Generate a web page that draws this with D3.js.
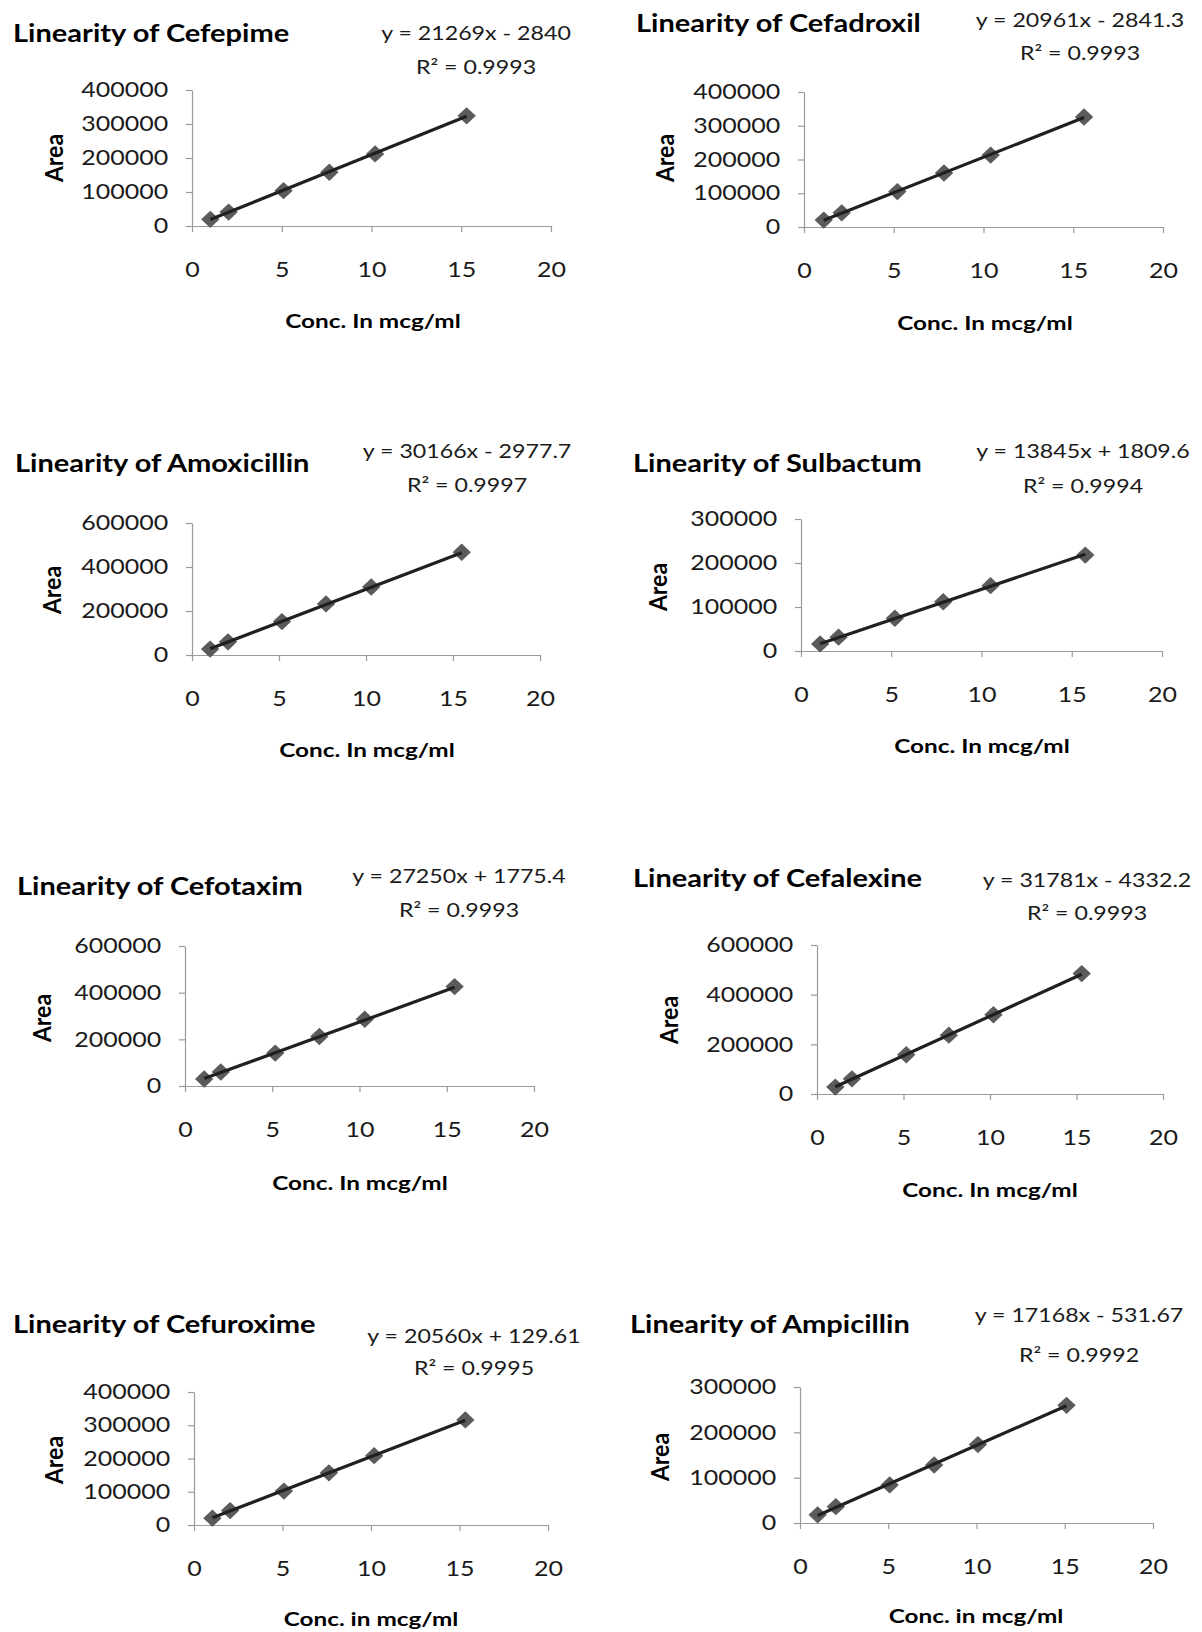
<!DOCTYPE html>
<html>
<head>
<meta charset="utf-8">
<script src="https://cdn.jsdelivr.net/npm/d3@7"></script>
<style>
  body { margin: 0; background: #fff; }
  svg text { font-family: Lato, "Open Sans", sans-serif; }
</style>
</head>
<body>
<div id="chart"></div>
<script>
// data
var drugs = ["Cefepime", "Cefadroxil", "Amoxicillin", "Sulbactum", "Cefotaxim", "Cefalexine", "Cefuroxime", "Ampicillin"];
var slopes = [21269, 20961, 30166, 13845, 27250, 31781, 20560, 17168];
var intercepts = [-2840, -2841.3, -2977.7, 1809.6, 1775.4, -4332.2, 129.61, -531.67];
var rSquared = ["0.9993", "0.9993", "0.9997", "0.9994", "0.9993", "0.9993", "0.9995", "0.9992"];
var concs = [
  [1.02, 2.04, 5.1, 7.65, 10.2, 15.3],
  [1.1, 2.1, 5.2, 7.8, 10.4, 15.6],
  [1.04, 2.07, 5.17, 7.7, 10.3, 15.5],
  [1.06, 2.08, 5.2, 7.88, 10.5, 15.75],
  [1.1, 2.05, 5.17, 7.7, 10.3, 15.45],
  [1.06, 2.02, 5.16, 7.62, 10.2, 15.3],
  [1.04, 2.04, 5.08, 7.62, 10.18, 15.33],
  [1.0, 2.03, 5.08, 7.6, 10.08, 15.1]
];
var areas = [
  [19500, 41000, 104000, 158000, 212000, 324000],
  [20500, 42000, 105000, 160000, 213000, 326000],
  [27000, 60000, 152000, 232000, 309000, 467000],
  [16000, 31500, 74500, 112000, 148500, 218000],
  [30000, 60000, 141000, 212000, 286000, 426000],
  [28000, 61000, 158000, 237000, 319000, 485000],
  [20500, 43500, 102000, 157000, 208500, 316000],
  [18000, 36000, 84000, 128000, 173000, 259500]
];
var yMax = [400000, 400000, 600000, 300000, 600000, 600000, 400000, 300000];
var yStep = [100000, 100000, 200000, 100000, 200000, 200000, 100000, 100000];
var xTicks = [0, 5, 10, 15, 20];
var xTitles = ["Conc. In mcg/ml", "Conc. In mcg/ml", "Conc. In mcg/ml", "Conc. In mcg/ml",
               "Conc. In mcg/ml", "Conc. In mcg/ml", "Conc. in mcg/ml", "Conc. in mcg/ml"];
var yTitle = "Area";

// where each small chart sits on the page
var layout = [
  {x0: 192, x1: 551,  yTop: 90,   yBot: 226,  tx: 13,  ty: 42,   ex: 476,  ey: 40,   ry: 74,   lx: 373, ly: 328,  ax: 54,  ay: 158},
  {x0: 804, x1: 1163, yTop: 92,   yBot: 227,  tx: 636, ty: 32,   ex: 1080, ey: 27,   ry: 60,   lx: 985, ly: 330,  ax: 665, ay: 158},
  {x0: 192, x1: 540,  yTop: 523,  yBot: 655,  tx: 15,  ty: 472,  ex: 467,  ey: 458,  ry: 492,  lx: 367, ly: 757,  ax: 52,  ay: 590},
  {x0: 801, x1: 1162, yTop: 519,  yBot: 651,  tx: 633, ty: 472,  ex: 1083, ey: 458,  ry: 493,  lx: 982, ly: 753,  ax: 658, ay: 587},
  {x0: 185, x1: 534,  yTop: 946,  yBot: 1086, tx: 17,  ty: 895,  ex: 459,  ey: 883,  ry: 917,  lx: 360, ly: 1190, ax: 42,  ay: 1018},
  {x0: 817, x1: 1163, yTop: 945,  yBot: 1094, tx: 633, ty: 887,  ex: 1087, ey: 887,  ry: 920,  lx: 990, ly: 1197, ax: 669, ay: 1020},
  {x0: 194, x1: 548,  yTop: 1392, yBot: 1525, tx: 13,  ty: 1333, ex: 474,  ey: 1343, ry: 1375, lx: 371, ly: 1626, ax: 54,  ay: 1460},
  {x0: 800, x1: 1153, yTop: 1387, yBot: 1523, tx: 630, ty: 1333, ex: 1079, ey: 1322, ry: 1362, lx: 976, ly: 1623, ax: 660, ay: 1457}
];

var width = 1202;
var height = 1632;
var axisColor = '#9a9a9a';
var markerColor = '#5b5b5b';
var lineColor = '#202020';
var textColor = '#1a1a1a';
// the source picture is stretched sideways, so text gets a small x-scale
var stretchTitle = 1.21;
var stretchTick = 1.19;
var stretchEq = 1.22;
var stretchLabel = 1.28;

var svg = d3.select("#chart").append("svg")
      .attr("width", width)
      .attr("height", height);
svg.append("rect")
      .attr("width", width)
      .attr("height", height)
      .attr("fill", "#fff");

var fmtEq = function(m, b) {
      var sign = b < 0 ? " - " : " + ";
      return "y = " + m + "x" + sign + Math.abs(b);
};

// text placed at (x,y) and widened by sx
var addText = function(g, x, y, sx, txt) {
      return g.append("text")
            .attr("transform", "translate(" + x + "," + y + ") scale(" + sx + ",1)")
            .text(txt);
};

drugs.forEach(function(drug, i) {
      var L = layout[i];
      var g = svg.append("g");

      var xScale = d3.scaleLinear()
            .domain([0, 20])
            .range([L.x0, L.x1]);
      var yScale = d3.scaleLinear()
            .domain([0, yMax[i]])
            .range([L.yBot, L.yTop]);

      var xAxis = d3.axisBottom(xScale)
            .tickValues(xTicks)
            .tickSize(6)
            .tickSizeOuter(0)
            .tickPadding(30);
      var yAxis = d3.axisLeft(yScale)
            .tickValues(d3.range(0, yMax[i] + 1, yStep[i]))
            .tickFormat(d3.format("d"))
            .tickSize(6)
            .tickSizeOuter(0)
            .tickPadding(14);

      var gx = g.append("g")
            .attr("transform", "translate(0," + L.yBot + ")")
            .call(xAxis);
      var gy = g.append("g")
            .attr("transform", "translate(" + L.x0 + ",0)")
            .call(yAxis);

      // axis styling, excel-ish
      [gx, gy].forEach(function(ax) {
            ax.select(".domain").attr("stroke", axisColor).attr("stroke-width", 1.2);
            ax.selectAll(".tick line").attr("stroke", axisColor).attr("stroke-width", 1.2);
            ax.selectAll(".tick text")
                  .attr("fill", textColor)
                  .attr("transform", "scale(" + stretchTick + ",1)")
                  .style("font-size", "21px")
                  .style("font-family", "Lato, sans-serif");
      });

      // markers
      g.selectAll("path.pt")
            .data(concs[i].map(function(c, j) { return [c, areas[i][j]]; }))
            .enter()
            .append("path")
                  .attr("class", "pt")
                  .attr("d", d3.symbol().type(d3.symbolSquare).size(150))
                  .attr("transform", d => "translate(" + xScale(d[0]) + "," + yScale(d[1]) + ") scale(1.06,1) rotate(45)")
                  .attr("fill", markerColor);

      // linear trendline over the measured range
      var xs = d3.extent(concs[i]);
      g.append("line")
            .attr("x1", xScale(xs[0]))
            .attr("y1", yScale(slopes[i] * xs[0] + intercepts[i]))
            .attr("x2", xScale(xs[1]))
            .attr("y2", yScale(slopes[i] * xs[1] + intercepts[i]))
            .attr("stroke", lineColor)
            .attr("stroke-width", 3.2);

      // title
      addText(g, L.tx, L.ty, stretchTitle, "Linearity of " + drug)
            .attr("fill", "#000")
            .style("font-size", "24px")
            .style("font-weight", "bold");

      // equation + R2
      addText(g, L.ex, L.ey, stretchEq, fmtEq(slopes[i], intercepts[i]))
            .attr("text-anchor", "middle")
            .attr("fill", textColor)
            .style("font-size", "19px");
      addText(g, L.ex, L.ry, stretchEq, "R\u00B2 = " + rSquared[i])
            .attr("text-anchor", "middle")
            .attr("fill", textColor)
            .style("font-size", "19px");

      // axis titles
      addText(g, L.lx, L.ly, stretchLabel, xTitles[i])
            .attr("text-anchor", "middle")
            .attr("fill", "#000")
            .style("font-size", "19px")
            .style("font-weight", "bold");
      g.append("text")
            .attr("transform", "translate(" + L.ax + "," + L.ay + ") rotate(-90) scale(1,1.08)")
            .attr("text-anchor", "middle")
            .attr("dy", "0.35em")
            .attr("fill", "#000")
            .style("font-size", "23px")
            .style("font-weight", "bold")
            .text(yTitle);
});
</script>
</body>
</html>
